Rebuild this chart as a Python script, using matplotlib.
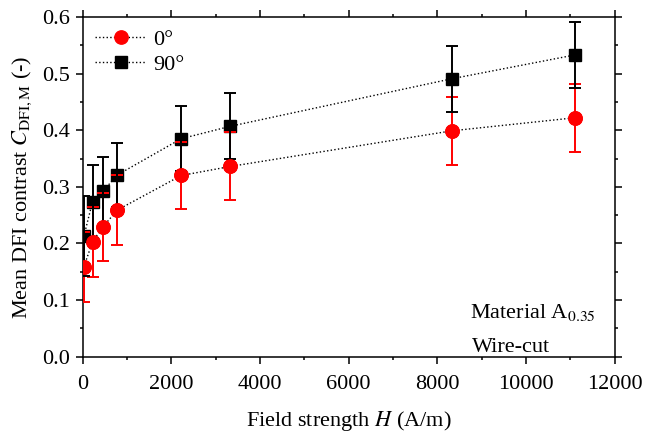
import matplotlib
matplotlib.use("Agg")
import matplotlib.pyplot as plt
from matplotlib.ticker import MultipleLocator

plt.rcParams.update({
    "font.family": ["Liberation Serif", "DejaVu Serif"],
    "mathtext.fontset": "stix",
    "font.size": 16,
    "axes.linewidth": 1.1,
    "xtick.direction": "out",
    "ytick.direction": "out",
    "xtick.top": True,
    "ytick.right": True,
    "xtick.major.size": 5,
    "ytick.major.size": 5,
    "xtick.minor.size": 2.5,
    "ytick.minor.size": 2.5,
    "xtick.major.width": 1.1,
    "ytick.major.width": 1.1,
    "xtick.minor.width": 1.1,
    "ytick.minor.width": 1.1,
    "xtick.major.pad": 8,
    "ytick.major.pad": 4,
})

# field strength (A/m)
H = [25, 220, 450, 780, 2220, 3330, 8330, 11100]
# mean DFI contrast, 0 deg and 90 deg
c_0 = [0.159, 0.203, 0.229, 0.259, 0.320, 0.336, 0.399, 0.422]
err_0 = [0.062, 0.062, 0.060, 0.062, 0.060, 0.060, 0.060, 0.060]
c_90 = [0.213, 0.274, 0.292, 0.321, 0.385, 0.407, 0.491, 0.533]
err_90 = [0.070, 0.064, 0.060, 0.057, 0.057, 0.058, 0.058, 0.058]

RED = "#ff0000"

fig = plt.figure(figsize=(6.47, 4.37), dpi=100)
ax = fig.add_axes([0.128, 0.184, 0.822, 0.777])

# dotted guide lines with markers (legend handles)
ax.plot(H, c_0, ls=":", color="k", lw=1.0, marker="o", ms=9.6,
        mfc=RED, mec=RED, label="0°", zorder=1.5)
ax.plot(H, c_90, ls=":", color="k", lw=1.0, marker="s", ms=8.5,
        mfc="k", mec="k", label="90°", zorder=2)

ax.errorbar(H, c_0, yerr=err_0, fmt="none", ecolor=RED, elinewidth=1.4,
            capsize=4, capthick=1.4, zorder=3)
ax.errorbar(H, c_90, yerr=err_90, fmt="none", ecolor="k", elinewidth=1.4,
            capsize=4, capthick=1.4, zorder=4)
# red markers on top
ax.plot(H, c_0, ls="none", marker="o", ms=9.6, mfc=RED, mec=RED, zorder=5)

ax.set_xlim(0, 12000)
ax.set_ylim(0, 0.6)
ax.xaxis.set_major_locator(MultipleLocator(2000))
ax.xaxis.set_minor_locator(MultipleLocator(1000))
ax.yaxis.set_major_locator(MultipleLocator(0.1))
ax.yaxis.set_minor_locator(MultipleLocator(0.05))
ax.yaxis.set_major_formatter(plt.FormatStrFormatter("%.1f"))

ax.set_xlabel(r"Field strength $H$ (A/m)", labelpad=11)
ax.set_ylabel(r"Mean DFI contrast $C_{\mathrm{DFI,M}}$ (-)", labelpad=6)

ax.legend(loc="upper left", frameon=False, handlelength=2.3,
          borderaxespad=0.15, handletextpad=0.3, labelspacing=0.2)

ax.text(0.728, 0.115, r"Material A$_{0.35}$", transform=ax.transAxes,
        ha="left", va="baseline")
ax.text(0.731, 0.014, "Wire-cut", transform=ax.transAxes,
        ha="left", va="baseline")

fig.savefig("out.png", dpi=100)
